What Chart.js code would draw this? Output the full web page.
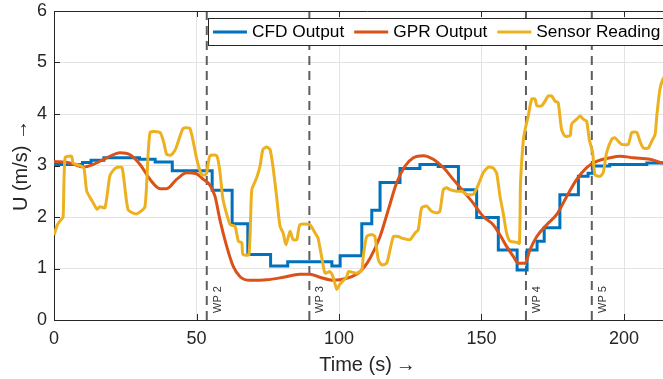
<!DOCTYPE html>
<html>
<head>
<meta charset="utf-8">
<script src="https://cdn.jsdelivr.net/npm/chart.js@4.4.1/dist/chart.umd.min.js"></script>
<style>
  html, body { margin: 0; padding: 0; background: #fff; overflow: hidden; }
  #wrap { width: 663px; height: 379px; overflow: hidden; }
  canvas { display: block; }
</style>
</head>
<body>
<div id="wrap"><canvas id="chart" width="690" height="379"></canvas></div>
<script>
const seriesNames = ['CFD Output', 'GPR Output', 'Sensor Reading'];
const seriesColors = ['#0072BD', '#D95319', '#EDB120'];

// CFD output (piecewise constant, value holds until next time)
const cfdTime = [0, 10, 13, 17.5, 30, 35.5, 41.5, 55.5, 62.5, 68, 76, 82, 97.5, 100.4, 108, 111.5, 114.4, 121.4, 128.4, 134.8,
  141.9, 148.3, 155.9, 162.5, 166, 169.5, 172, 177.5, 184, 187.4, 189, 195, 208, 220];
const cfdU = [3.02, 3.06, 3.1, 3.15, 3.12, 3.07, 2.9, 2.52, 1.87, 1.27, 1.05, 1.13, 1.05, 1.25, 1.87, 2.13, 2.67, 2.94, 3.02, 2.98,
  2.53, 1.99, 1.36, 0.97, 1.36, 1.53, 1.79, 2.43, 2.79, 2.85, 2.99, 3.02, 3.05, 3.05];

// GPR output
const gprTime = [0, 5.6, 10.3, 13.8, 18.5, 23.2, 26.7, 30.2, 33.7, 37.2, 39.5, 43, 46.6, 50, 52.2, 54.7, 56.5, 58.2, 60.6, 62.9,
  65.3, 68.8, 74.6, 80.5, 86.3, 89.8, 93.3, 98, 102.7, 107.4, 110.9, 114.4, 117.3, 120.2, 123.2, 126.1, 129.6, 133.1, 136.6, 140.1,
  143.6, 147.1, 150.6, 154.1, 156.5, 158.8, 161.2, 162.9, 165.3, 167, 169.4, 172.9, 176.4, 179.9, 183.4, 186.9, 190.4, 195.1, 198.6, 203.3,
  209.1, 213.7, 220];
const gprU = [3.08, 3.05, 2.97, 3.02, 3.15, 3.25, 3.21, 3.02, 2.73, 2.55, 2.55, 2.73, 2.86, 2.84, 2.74, 2.62, 2.4, 1.95, 1.43, 1.04,
  0.84, 0.77, 0.78, 0.83, 0.89, 0.89, 0.83, 0.77, 0.81, 0.94, 1.2, 1.62, 2.14, 2.66, 2.99, 3.15, 3.19, 3.12, 2.96, 2.73,
  2.5, 2.27, 2.01, 1.85, 1.65, 1.43, 1.23, 1.1, 1.1, 1.36, 1.62, 1.85, 2.05, 2.4, 2.73, 2.96, 3.08, 3.15, 3.18, 3.15,
  3.12, 3.05, 3.02];

// Sensor reading
const sensorTime = [0, 1.2, 2.5, 3.2, 3.9, 6.2, 6.7, 9.1, 10.5, 11.5, 13.5, 15.1, 16.1, 17.9, 19.6, 21, 22, 23.9, 26, 29,
  31.9, 33.7, 37.2, 38.5, 39.5, 41, 42.5, 43.5, 45.3, 47.7, 50.1, 51.8, 53, 53.6, 54.7, 57.1, 58.2, 59.3, 61.8, 63.5,
  64.7, 65.9, 66.3, 68.4, 69.4, 71.1, 72.3, 73.3, 74.6, 75.8, 76.8, 78.1, 79.3, 80.4, 81.4, 82.8, 83.9, 85.2, 86.3, 89.8,
  91.6, 92.6, 93.9, 95.1, 96.8, 97.9, 99.2, 100.4, 102.7, 103.3, 106.2, 108, 108.5, 109.7, 111.5, 112.6, 113.8, 115, 116.7, 117.9,
  119.1, 120.8, 122, 124.9, 126.7, 127.8, 129, 130.8, 132.5, 134.3, 135.4, 136.6, 137.8, 138.9, 141.3, 143.1, 144.8, 147.1, 148.9, 150.6,
  152.4, 154.1, 155.3, 156.5, 157.6, 158.8, 160, 162.3, 163.3, 163.7, 164.7, 165.3, 166.4, 167.6, 168.8, 169.4, 171.1, 172.3, 173.4, 174.6,
  175.8, 176.9, 178.1, 179.3, 181.1, 181.6, 183.4, 184.6, 185.7, 186.9, 187.8, 189, 189.8, 191.6, 192.7, 193.9, 195.7, 196.8, 198, 199.2,
  201.5, 202.7, 204.5, 205.6, 206.8, 208.5, 209.7, 210.9, 211.5, 212.6, 213.7, 216, 220];
const sensorU = [1.65, 1.85, 1.95, 2.0, 3.15, 3.18, 3.05, 3.0, 2.95, 2.5, 2.3, 2.15, 2.2, 2.18, 2.8, 2.92, 2.96, 2.96, 2.14, 2.06,
  2.2, 3.64, 3.64, 3.45, 3.22, 3.2, 3.3, 3.45, 3.72, 3.72, 3.12, 2.82, 2.82, 2.86, 3.19, 3.19, 2.89, 2.34, 1.85, 1.82,
  1.53, 1.5, 1.27, 1.27, 2.53, 2.76, 2.99, 3.31, 3.36, 3.31, 2.99, 2.4, 1.82, 1.69, 1.46, 1.72, 1.56, 1.56, 1.85, 1.85,
  1.69, 1.6, 1.23, 0.91, 0.94, 0.84, 0.6, 0.7, 0.84, 0.94, 0.91, 0.97, 1.23, 1.62, 1.66, 1.62, 1.17, 1.07, 1.1, 1.36,
  1.62, 1.62, 1.59, 1.56, 1.69, 1.75, 2.18, 2.21, 2.11, 2.08, 2.11, 2.53, 2.57, 2.53, 2.5, 2.5, 2.44, 2.44, 2.63, 2.86,
  2.97, 2.95, 2.85, 2.4, 2.08, 1.69, 1.53, 1.51, 1.49, 2.66, 3.51, 3.7, 3.96, 4.29, 4.29, 4.16, 4.16, 4.25, 4.35, 4.35,
  4.25, 4.22, 3.7, 3.57, 3.58, 3.8, 3.9, 3.96, 3.9, 3.86, 3.51, 3.25, 2.82, 2.79, 2.86, 3.25, 3.51, 3.54, 3.47, 3.41,
  3.41, 3.64, 3.64, 3.47, 3.34, 3.34, 3.47, 3.6, 3.96, 4.48, 4.68, 4.85, 4.9];

// waypoints
const wpTime = [53.6, 89.6, 165.6, 188.7];
const wpLabels = ['WP 2', 'WP 3', 'WP 4', 'WP 5'];

const xTitle = 'Time (s)\u2009\u2192';
const yTitle = 'U (m/s) \u2192';
const xMin = 0, xMax = 220, xStep = 50;
const yMin = 0, yMax = 6, yStep = 1;

const fontFamily = '"Liberation Sans", Arial, Helvetica, sans-serif';
const axisColor = '#262626';

function toPoints(xs, ys) {
    return xs.map((x, i) => ({ x: x, y: ys[i] }));
}

const datasets = [
    { label: seriesNames[2], data: toPoints(sensorTime, sensorU), borderColor: seriesColors[2], borderWidth: 3,
      pointRadius: 0, tension: 0.2, borderJoinStyle: 'round', order: 1 },
    { label: seriesNames[1], data: toPoints(gprTime, gprU), borderColor: seriesColors[1], borderWidth: 3,
      pointRadius: 0, cubicInterpolationMode: 'monotone', order: 2 },
    { label: seriesNames[0], data: toPoints(cfdTime, cfdU), borderColor: seriesColors[0], borderWidth: 3,
      pointRadius: 0, stepped: true, order: 3 }
];
wpTime.forEach(t => {
    datasets.push({ label: 'wp', data: [{ x: t, y: yMin }, { x: t, y: yMax }], borderColor: '#5e5e5e',
        borderWidth: 2, borderDash: [9, 6], pointRadius: 0, order: 4 });
});

// box top edge, inward ticks, waypoint labels and the legend box
const decorPlugin = {
    id: 'decor',
    afterDatasetsDraw(chart) {
        const ctx = chart.ctx;
        const { left, right, top, bottom } = chart.chartArea;
        const xs = chart.scales.x, ys = chart.scales.y;
        ctx.save();

        ctx.strokeStyle = axisColor;
        ctx.lineWidth = 1;
        ctx.beginPath();
        ctx.moveTo(left, top + 0.5);
        ctx.lineTo(right, top + 0.5);
        xs.ticks.forEach(t => {
            const px = Math.round(xs.getPixelForValue(t.value)) + 0.5;
            ctx.moveTo(px, bottom); ctx.lineTo(px, bottom - 6);
            ctx.moveTo(px, top); ctx.lineTo(px, top + 6);
        });
        ys.ticks.forEach(t => {
            const py = Math.round(ys.getPixelForValue(t.value)) + 0.5;
            ctx.moveTo(left, py); ctx.lineTo(left + 6, py);
        });
        ctx.stroke();

        // WP labels, rotated
        ctx.fillStyle = '#333';
        ctx.font = '11px ' + fontFamily;
        ctx.textAlign = 'left';
        ctx.textBaseline = 'middle';
        wpTime.forEach((t, i) => {
            const px = xs.getPixelForValue(t);
            ctx.save();
            ctx.translate(px + 11, bottom - 7);
            ctx.rotate(-Math.PI / 2);
            ctx.fillText(wpLabels[i], 0, 0);
            ctx.restore();
        });

        // legend
        ctx.font = '17.3px ' + fontFamily;
        const lineLen = 34, boxLeft = 208, boxTop = 18, boxH = 27;
        const widths = seriesNames.map(n => ctx.measureText(n).width);
        let total = 5;
        widths.forEach((w, i) => { total += lineLen + 5 + w + (i < widths.length - 1 ? 10 : 3); });
        ctx.fillStyle = '#fff';
        ctx.fillRect(boxLeft, boxTop, total, boxH);
        ctx.strokeStyle = axisColor;
        ctx.strokeRect(boxLeft + 0.5, boxTop + 0.5, total, boxH);
        let cx = boxLeft + 5;
        const cy = boxTop + boxH / 2 + 0.5;
        seriesNames.forEach((n, i) => {
            ctx.strokeStyle = seriesColors[i];
            ctx.lineWidth = 3;
            ctx.beginPath();
            ctx.moveTo(cx, cy);
            ctx.lineTo(cx + lineLen, cy);
            ctx.stroke();
            cx += lineLen + 5;
            ctx.fillStyle = '#000';
            ctx.fillText(n, cx, cy);
            cx += widths[i] + 10;
        });

        ctx.restore();
    }
};

new Chart(document.getElementById('chart'), {
    type: 'line',
    data: { datasets: datasets },
    options: {
        responsive: false,
        animation: false,
        events: [],
        layout: { padding: { left: 0, top: 11, right: 9, bottom: 0 } },
        plugins: { legend: { display: false }, tooltip: { enabled: false } },
        scales: {
            x: {
                type: 'linear', min: xMin, max: xMax,
                ticks: { stepSize: xStep, includeBounds: false, padding: 8, maxRotation: 0, autoSkip: false,
                    color: axisColor, font: { family: fontFamily, size: 18 } },
                grid: { color: '#e3e3e3', drawTicks: false },
                border: { color: axisColor, width: 1 },
                title: { display: true, text: xTitle, color: axisColor, font: { family: fontFamily, size: 20 },
                    padding: { top: 0, bottom: 2 } },
                afterFit: s => { s.height = 59; s.paddingLeft = 0; s.paddingRight = 0; }
            },
            y: {
                min: yMin, max: yMax,
                ticks: { stepSize: yStep, padding: 7, color: axisColor, font: { family: fontFamily, size: 18 } },
                grid: { color: '#e3e3e3', drawTicks: false },
                border: { color: axisColor, width: 1 },
                title: { display: true, text: yTitle, color: axisColor, font: { family: fontFamily, size: 20 },
                    padding: { top: 9, bottom: 0 } },
                afterFit: s => { s.width = 54; s.paddingTop = 0; s.paddingBottom = 0; }
            }
        }
    },
    plugins: [decorPlugin]
});
</script>
</body>
</html>
